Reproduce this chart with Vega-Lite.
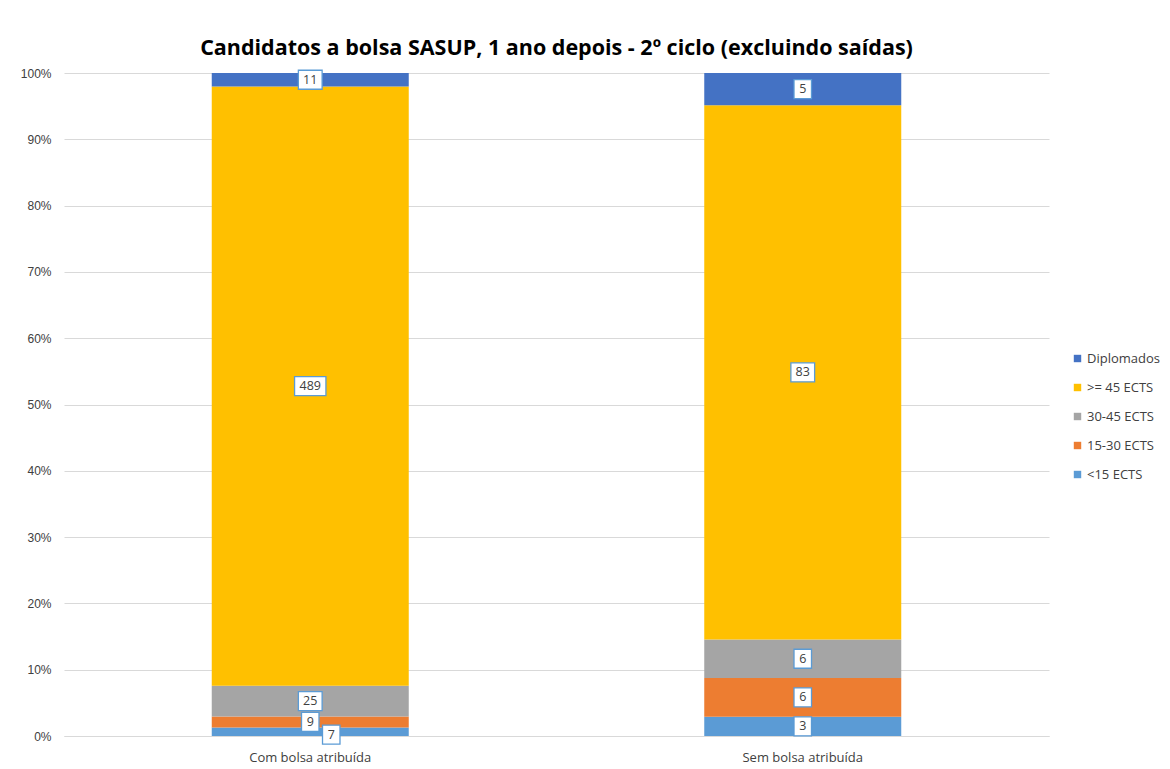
{
  "$schema": "https://vega.github.io/schema/vega-lite/v6.json",
  "width": 985,
  "height": 663,
  "padding": {"left": 20, "top": 37, "right": 5, "bottom": 5},
  "background": "white",
  "config": {
    "view": {"stroke": null},
    "font": "Open Sans",
    "axisY": {
      "format": ".0%",
      "labelFontSize": 12,
      "labelFont": "Liberation Sans",
      "labelColor": "#404040",
      "labelPadding": 13,
      "ticks": false,
      "domain": false,
      "gridColor": "#D9D9D9",
      "title": null
    }
  },
  "title": {
    "text": "Candidatos a bolsa SASUP, 1 ano depois - 2º ciclo (excluindo saídas)",
    "font": "Open Sans",
    "fontSize": 21.5,
    "fontWeight": "bold",
    "color": "#000000",
    "anchor": "middle",
    "offset": 8
  },
  "data": {
    "values": [
      {"grupo": "Com bolsa atribuída", "serie": "<15 ECTS", "ordem": 1, "valor": 7},
      {"grupo": "Com bolsa atribuída", "serie": "15-30 ECTS", "ordem": 2, "valor": 9},
      {"grupo": "Com bolsa atribuída", "serie": "30-45 ECTS", "ordem": 3, "valor": 25},
      {"grupo": "Com bolsa atribuída", "serie": ">= 45 ECTS", "ordem": 4, "valor": 489},
      {"grupo": "Com bolsa atribuída", "serie": "Diplomados", "ordem": 5, "valor": 11},
      {"grupo": "Sem bolsa atribuída", "serie": "<15 ECTS", "ordem": 1, "valor": 3},
      {"grupo": "Sem bolsa atribuída", "serie": "15-30 ECTS", "ordem": 2, "valor": 6},
      {"grupo": "Sem bolsa atribuída", "serie": "30-45 ECTS", "ordem": 3, "valor": 6},
      {"grupo": "Sem bolsa atribuída", "serie": ">= 45 ECTS", "ordem": 4, "valor": 83},
      {"grupo": "Sem bolsa atribuída", "serie": "Diplomados", "ordem": 5, "valor": 5}
    ]
  },
  "encoding": {
    "x": {
      "field": "grupo",
      "type": "nominal",
      "title": null,
      "scale": {"paddingInner": 0.6, "paddingOuter": 0.3},
      "axis": {
        "labelAngle": 0,
        "labelFontSize": 13,
        "labelColor": "#404040",
        "labelPadding": 15,
        "ticks": false,
        "domainColor": "#D9D9D9",
        "labelFont": "Open Sans"
      }
    }
  },
  "layer": [
    {
      "mark": {"type": "bar"},
      "encoding": {
        "y": {
          "field": "valor",
          "type": "quantitative",
          "stack": "normalize",
          "title": null,
          "scale": {"domain": [0, 1]},
          "axis": {"values": [0, 0.1, 0.2, 0.3, 0.4, 0.5, 0.6, 0.7, 0.8, 0.9, 1]}
        },
        "color": {
          "field": "serie",
          "type": "nominal",
          "title": null,
          "scale": {
            "domain": ["Diplomados", ">= 45 ECTS", "30-45 ECTS", "15-30 ECTS", "<15 ECTS"],
            "range": ["#4472C4", "#FFC000", "#A5A5A5", "#ED7D31", "#5B9BD5"]
          },
          "legend": {
            "orient": "none",
            "legendX": 1007,
            "legendY": 279,
            "symbolType": "square",
            "symbolSize": 55,
            "symbolStrokeWidth": 0,
            "labelFontSize": 13,
            "labelFont": "Open Sans",
            "labelColor": "#404040",
            "rowPadding": 15,
            "labelOffset": 3
          }
        },
        "order": {"field": "ordem", "type": "quantitative"}
      }
    },
    {
      "transform": [
        {"stack": "valor", "groupby": ["grupo"], "sort": [{"field": "ordem"}], "offset": "normalize", "as": ["v0", "v1"]},
        {"calculate": "(datum.v0 + datum.v1) / 2", "as": "mid"},
        {"calculate": "length(toString(datum.valor))", "as": "nd"}
      ],
      "layer": [
        {
          "transform": [{"filter": "!(datum.grupo == 'Com bolsa atribuída' && datum.serie == '<15 ECTS')"}],
          "layer": [
            {
              "mark": {"type": "point", "filled": true, "fill": "white", "stroke": "#5B9BD5", "strokeWidth": 1.3, "opacity": 1, "size": 361},
              "encoding": {
                "y": {"field": "mid", "type": "quantitative", "title": null, "axis": {"values": [0, 0.1, 0.2, 0.3, 0.4, 0.5, 0.6, 0.7, 0.8, 0.9, 1]}},
                "shape": {
                  "condition": [
                    {"test": "datum.nd >= 3", "value": "M-1.65,-1H1.65V1H-1.65Z"},
                    {"test": "datum.nd == 2", "value": "M-1.25,-1H1.25V1H-1.25Z"}
                  ],
                  "value": "M-0.92,-1H0.92V1H-0.92Z"
                }
              }
            },
            {
              "mark": {"type": "text", "fontSize": 12.5, "font": "Open Sans", "color": "#404040", "baseline": "middle"},
              "encoding": {
                "y": {"field": "mid", "type": "quantitative", "title": null, "axis": {"values": [0, 0.1, 0.2, 0.3, 0.4, 0.5, 0.6, 0.7, 0.8, 0.9, 1]}},
                "text": {"field": "valor", "type": "quantitative"}
              }
            }
          ]
        },
        {
          "transform": [{"filter": "datum.grupo == 'Com bolsa atribuída' && datum.serie == '<15 ECTS'"}],
          "layer": [
            {
              "mark": {"type": "point", "filled": true, "fill": "white", "stroke": "#5B9BD5", "strokeWidth": 1.3, "opacity": 1, "size": 361, "shape": "M-0.92,-1H0.92V1H-0.92Z", "xOffset": 21, "yOffset": 3},
              "encoding": {
                "y": {"field": "mid", "type": "quantitative", "title": null, "axis": {"values": [0, 0.1, 0.2, 0.3, 0.4, 0.5, 0.6, 0.7, 0.8, 0.9, 1]}}
              }
            },
            {
              "mark": {"type": "text", "fontSize": 12.5, "font": "Open Sans", "color": "#404040", "baseline": "middle", "dx": 21, "dy": 3},
              "encoding": {
                "y": {"field": "mid", "type": "quantitative", "title": null, "axis": {"values": [0, 0.1, 0.2, 0.3, 0.4, 0.5, 0.6, 0.7, 0.8, 0.9, 1]}},
                "text": {"field": "valor", "type": "quantitative"}
              }
            }
          ]
        }
      ]
    }
  ]
}
